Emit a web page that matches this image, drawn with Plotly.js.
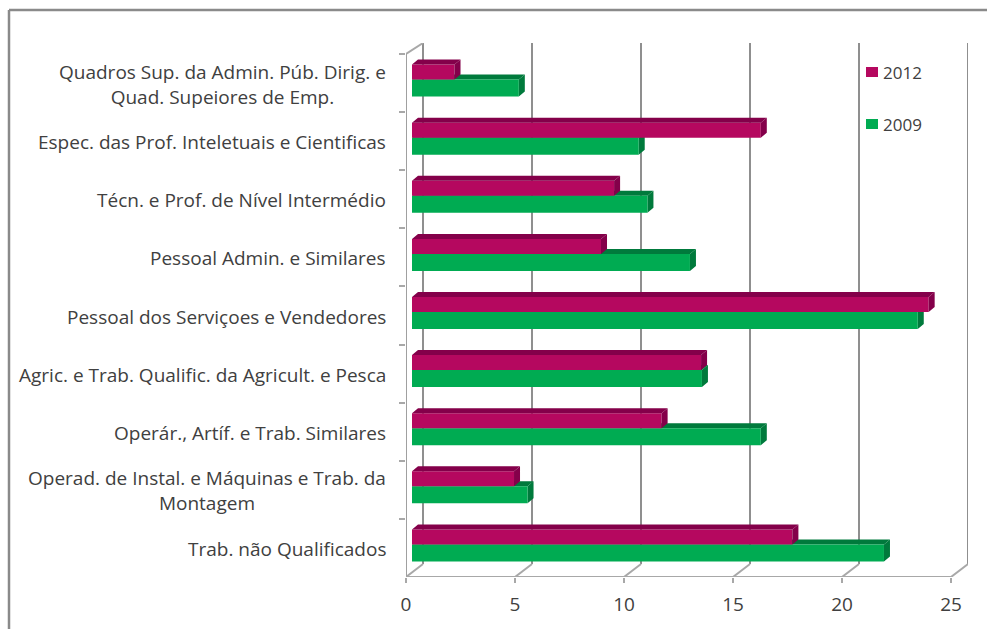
<!DOCTYPE html>
<html><head><meta charset="utf-8">
<script src="https://cdn.plot.ly/plotly-3.0.1.min.js"></script>
<style>html,body{margin:0;padding:0;background:#fff}#c{width:987px;height:629px}</style>
</head><body><div id="c"></div>
<script>
const categories = [
  "Quadros Sup. da Admin. Púb. Dirig. e<br>Quad. Supeiores de Emp.",
  "Espec. das Prof. Inteletuais e Cientificas",
  "Técn. e Prof. de Nível Intermédio",
  "Pessoal Admin. e Similares",
  "Pessoal dos Serviçoes e Vendedores",
  "Agric. e Trab. Qualific. da Agricult. e Pesca",
  "Operár., Artíf. e Trab. Similares",
  "Operad. de Instal. e Máquinas e Trab. da<br>Montagem",
  "Trab. não Qualificados"
];
const values2012 = [1.95, 16.0, 9.27, 8.67, 23.7, 13.26, 11.45, 4.68, 17.45];
const values2009 = [4.9, 10.4, 10.8, 12.75, 23.2, 13.3, 16.0, 5.3, 21.65];
const xTicks = [0, 5, 10, 15, 20, 25];

// chart geometry (pixels on the page)
const L = 406, R = 968, T = 43, B = 577, PXX = 21.8, PXY = 58.11;
const xMax = (R - L) / PXX, yMin = -0.5 - (54 - T) / PXY;
const px = v => v / PXX, py = v => v / PXY;
const wallX = px(17), wallY = py(13), topLeftY = -0.5;
const barBase = px(6), dX = px(6), dY = py(5);
const off12 = py(-18.5), w12 = py(15), off09 = py(-3.5), w09 = py(17);

const GREEN = "#00ab52", GREEN_D = "#007a3c", MAG = "#b5085f", MAG_D = "#84004a";
const FONT = "Open Sans", TEXT = "#404040";

function faces(vals, off, w) {
  const top = {x: [], y: []}, side = {x: [], y: []};
  vals.forEach((v, i) => {
    const e = barBase + v, t = i + off, b = t + w;
    top.x.push(barBase, barBase + dX, e + dX, e, barBase, null);
    top.y.push(t, t - dY, t - dY, t, t, null);
    side.x.push(e, e + dX, e + dX, e, e, null);
    side.y.push(t, t - dY, b - dY, b, t, null);
  });
  return [top, side];
}
const poly = (d, color, yaxis) => ({type: "scatter", mode: "lines", x: d.x, y: d.y, yaxis,
  fill: "toself", fillcolor: color, line: {width: 0, color}, hoverinfo: "skip", showlegend: false});
const line = (x, y, color, width) => ({type: "scatter", mode: "lines", x, y, yaxis: "y",
  line: {color, width}, hoverinfo: "skip", showlegend: false});

const floorY = 8.5, backFloorY = floorY - wallY;
const walls = [];
xTicks.forEach(v => {
  walls.push(line([v + wallX, v + wallX], [yMin, backFloorY], "#8f8f8f", 2));
  walls.push(line([v, v + wallX], [floorY, backFloorY], "#a8a8a8", 2));
});
walls.push(line([0, wallX], [topLeftY, yMin], "#a8a8a8", 2));
walls.push(line([0, 0], [topLeftY, floorY], "#a0a0a0", 2));
walls.push(line([0, 25], [floorY, floorY], "#a8a8a8", 2));

const [t09, s09] = faces(values2009, off09, w09);
const [t12, s12] = faces(values2012, off12, w12);

const traces = [
  ...walls,
  poly(t09, GREEN_D, "y"), poly(s09, GREEN_D, "y"),
  {type: "bar", orientation: "h", name: "2009", y: categories, x: values2009, base: barBase,
   width: w09, offset: off09, yaxis: "y2", marker: {color: GREEN, line: {width: 0}}},
  {type: "bar", orientation: "h", name: "2012", y: categories, x: values2012, base: barBase,
   width: w12, offset: off12, yaxis: "y2", marker: {color: MAG, line: {width: 0}}},
  poly(t12, MAG_D, "y3"), poly(s12, MAG_D, "y3")
];

const catAnn = categories.map((c, i) => ({
  text: c, xref: "x", yref: "y2", x: 0, y: i, xanchor: "right", yanchor: "middle",
  xshift: -18, yshift: -1, align: "center", showarrow: false,
  font: {family: FONT, size: 19, color: TEXT}
}));
const legend = [["2012", MAG, 72], ["2009", GREEN, 124]];
const legAnn = legend.map(l => ({
  text: l[0], xref: "paper", yref: "paper", x: (881 - L) / (R - L), y: (B - l[2]) / (B - T),
  xanchor: "left", yanchor: "middle", showarrow: false,
  font: {family: FONT, size: 17, color: TEXT}
}));
const legShapes = legend.map(l => ({
  type: "rect", xref: "paper", yref: "paper", line: {width: 0}, fillcolor: l[1],
  x0: (866 - L) / (R - L), x1: (878 - L) / (R - L),
  y0: (B - l[2] - 5) / (B - T), y1: (B - l[2] + 5) / (B - T)
}));
const frame = [
  [9, 10, 987, 10], [9, 10, 9, 629]
].map(f => ({type: "line", xref: "paper", yref: "paper",
  x0: (f[0] - L) / (R - L), x1: (f[2] - L) / (R - L),
  y0: (B - f[1]) / (B - T), y1: (B - f[3]) / (B - T),
  line: {color: "#8a8a8a", width: 2.5}}));

const layout = {
  width: 987, height: 629, paper_bgcolor: "#fff", plot_bgcolor: "#fff", showlegend: false,
  margin: {l: L, r: 987 - R, t: T, b: 629 - B, pad: 0},
  barmode: "overlay",
  xaxis: {range: [0, xMax], tickvals: xTicks, ticks: "outside", ticklen: 5, tickwidth: 2, tickcolor: "#a8a8a8",
    ticklabelstandoff: 5, showgrid: false, zeroline: false, showline: false, fixedrange: true,
    tickfont: {family: FONT, size: 19, color: TEXT}},
  yaxis: {range: [floorY, yMin], type: "linear", visible: false, fixedrange: true},
  yaxis2: {range: [floorY, yMin], type: "category", categoryorder: "array", categoryarray: categories,
    overlaying: "y", side: "left", anchor: "x", tickson: "boundaries", ticks: "outside", ticklen: 6,
    tickwidth: 2, tickcolor: "#a8a8a8", showticklabels: false, showgrid: false, zeroline: false,
    showline: false, fixedrange: true},
  yaxis3: {range: [floorY, yMin], type: "linear", overlaying: "y", visible: false, fixedrange: true},
  annotations: [...catAnn, ...legAnn],
  shapes: [...legShapes, ...frame]
};
Plotly.newPlot("c", traces, layout, {displayModeBar: false, staticPlot: true});
</script></body></html>
